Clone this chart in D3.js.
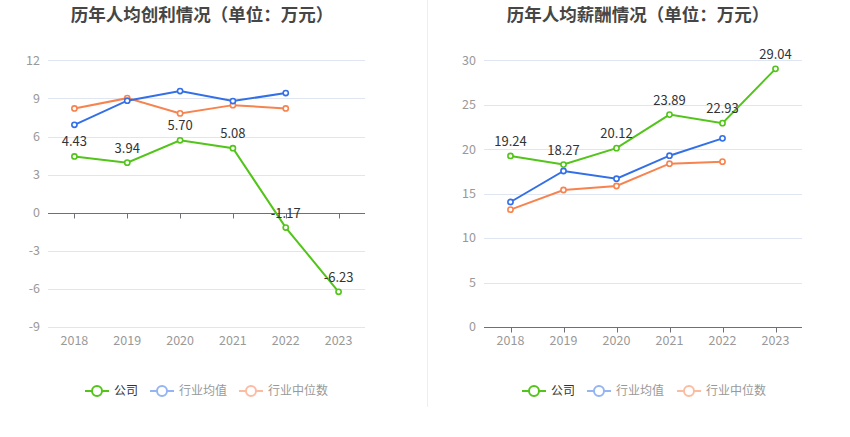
<!DOCTYPE html>
<html><head><meta charset="utf-8">
<script src="https://cdn.jsdelivr.net/npm/d3@7"></script>
<style>
body{margin:0;background:#fff;}
svg{display:block;font-family:"Microsoft YaHei","Noto Sans CJK SC","Noto Sans",sans-serif;}
</style></head>
<body>
<svg id="c" width="850" height="437"></svg>
<script>
const years = ["2018","2019","2020","2021","2022","2023"];
const profitCompany = [4.43, 3.94, 5.70, 5.08, -1.17, -6.23];
const profitIndAvg = [6.92, 8.82, 9.58, 8.79, 9.42, null];
const profitIndMed = [8.21, 9.02, 7.82, 8.47, 8.21, null];
const profitTicks = [-9, -6, -3, 0, 3, 6, 9, 12];
const salaryCompany = [19.24, 18.27, 20.12, 23.89, 22.93, 29.04];
const salaryIndAvg = [14.06, 17.55, 16.68, 19.27, 21.22, null];
const salaryIndMed = [13.2, 15.41, 15.86, 18.37, 18.6, null];
const salaryTicks = [0, 5, 10, 15, 20, 25, 30];
const legendNames = ["公司", "行业均值", "行业中位数"];
const titles = ["历年人均创利情况（单位：万元）", "历年人均薪酬情况（单位：万元）"];

const colors = ["#52c41a", "#3370e8", "#f7834f"];
const legendColors = ["#52c41a", "#94b4f2", "#fbbca2"];
const legendText = ["#333", "#999", "#999"];

const svg = d3.select("#c");

svg.append("line").attr("x1", 427.5).attr("x2", 427.5).attr("y1", 0).attr("y2", 407)
  .attr("stroke", "#eeeeee").attr("stroke-width", 1);

function drawChart(opt) {
  const g = svg.append("g");
  const x = d3.scaleBand().domain(years).range([opt.x0, opt.x1]);
  const y = d3.scaleLinear().domain([opt.ymin, opt.ymax]).range([opt.yb, opt.yt]);

  g.append("text").attr("x", opt.tx).attr("y", 21).attr("text-anchor", "middle")
    .attr("font-size", 17.5).attr("font-weight", "bold").attr("fill", "#464646").text(opt.title);

  g.selectAll(".grid").data(opt.ticks.filter(t => t !== 0)).enter().append("line")
    .attr("x1", opt.x0).attr("x2", opt.x1)
    .attr("y1", d => Math.round(y(d)) + 0.5).attr("y2", d => Math.round(y(d)) + 0.5)
    .attr("stroke", "#e0e6f1").attr("stroke-width", 1);

  g.selectAll(".yl").data(opt.ticks).enter().append("text")
    .attr("x", opt.x0 - 8).attr("y", d => y(d)).attr("dy", "0.35em")
    .attr("text-anchor", "end").attr("font-size", 12.5).attr("fill", "#999").text(d => d);

  const y0 = Math.round(y(0)) + 0.5;
  g.append("line").attr("x1", opt.x0).attr("x2", opt.x1).attr("y1", y0).attr("y2", y0)
    .attr("stroke", "#6e7079").attr("stroke-width", 1);
  g.selectAll(".tk").data(years).enter().append("line")
    .attr("x1", d => Math.round(x(d) + x.bandwidth() / 2) + 0.5)
    .attr("x2", d => Math.round(x(d) + x.bandwidth() / 2) + 0.5)
    .attr("y1", y0).attr("y2", y0 + 5).attr("stroke", "#6e7079");

  g.selectAll(".xl").data(years).enter().append("text")
    .attr("x", d => x(d) + x.bandwidth() / 2).attr("y", opt.yb + 18)
    .attr("text-anchor", "middle").attr("font-size", 12.5).attr("fill", "#999").text(d => d);

  const series = [opt.s0, opt.s1, opt.s2];
  const line = d3.line().defined(d => d.v !== null)
    .x(d => x(d.k) + x.bandwidth() / 2).y(d => y(d.v));
  [2, 1, 0].forEach(i => {
    const data = years.map((k, j) => ({k, v: series[i][j]})).filter(d => d.v !== null);
    g.append("path").datum(data).attr("d", line).attr("fill", "none")
      .attr("stroke", colors[i]).attr("stroke-width", 2);
    g.selectAll(".pt" + i).data(data).enter().append("circle")
      .attr("cx", d => x(d.k) + x.bandwidth() / 2).attr("cy", d => y(d.v))
      .attr("r", 2.6).attr("fill", "#fff").attr("stroke", colors[i]).attr("stroke-width", 1.6);
  });

  const cdata = years.map((k, j) => ({k, v: opt.s0[j]}));
  g.selectAll(".lbl").data(cdata).enter().append("text")
    .attr("x", d => x(d.k) + x.bandwidth() / 2).attr("y", d => y(d.v) - 10)
    .attr("text-anchor", "middle").attr("font-size", 13).attr("fill", "#333")
    .text(d => d.v.toFixed(2));

  const lg = g.append("g");
  opt.legendX.forEach((lx, i) => {
    const ly = 391;
    lg.append("line").attr("x1", lx).attr("x2", lx + 24).attr("y1", ly).attr("y2", ly)
      .attr("stroke", legendColors[i]).attr("stroke-width", 2);
    lg.append("circle").attr("cx", lx + 12).attr("cy", ly).attr("r", 5)
      .attr("fill", "#fff").attr("stroke", legendColors[i]).attr("stroke-width", 2);
    lg.append("text").attr("x", lx + 29).attr("y", ly).attr("dy", "0.35em")
      .attr("font-size", 12).attr("fill", legendText[i]).text(legendNames[i]);
  });
}

drawChart({
  title: titles[0], tx: 202,
  x0: 48, x1: 365, yt: 60.3, yb: 327, ymin: -9, ymax: 12,
  ticks: profitTicks, s0: profitCompany, s1: profitIndAvg, s2: profitIndMed,
  legendX: [85, 150, 239]
});
drawChart({
  title: titles[1], tx: 638,
  x0: 484, x1: 802, yt: 60.3, yb: 327, ymin: 0, ymax: 30,
  ticks: salaryTicks, s0: salaryCompany, s1: salaryIndAvg, s2: salaryIndMed,
  legendX: [522, 587, 677]
});
</script>
</body></html>
